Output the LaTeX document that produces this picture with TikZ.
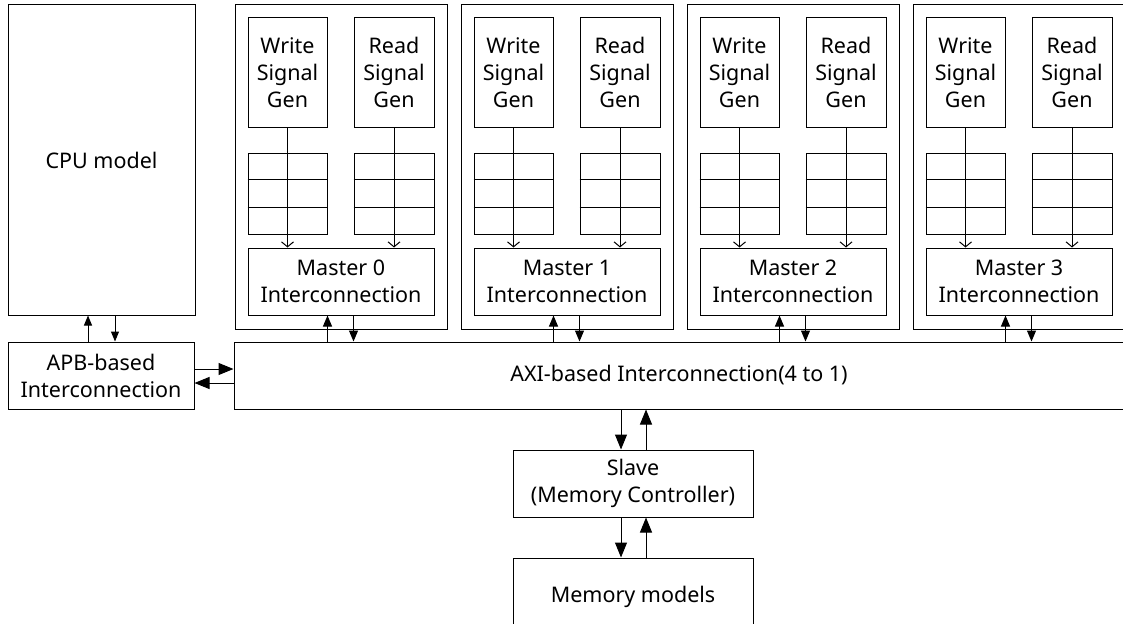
\documentclass[tikz,border=0pt]{standalone}
\usepackage{fontspec}
\setmainfont{Noto Sans}
\usetikzlibrary{arrows.meta}
\begin{document}
\begin{tikzpicture}[x=1pt,y=-1pt,
  blk/.style={draw,line width=1pt,inner sep=0pt,align=center,
    font=\fontsize{21.5}{27}\selectfont},
  fifo/.style={draw,line width=1pt,inner sep=0pt,minimum width=79pt,minimum height=81pt},
  sig/.style={line width=1pt,-{Straight Barb[length=5pt,width=12pt]}},
  bus/.style={line width=1pt,-{Triangle[length=11pt,width=9pt]}},
  bigbus/.style={line width=1pt,-{Triangle[length=15pt,width=12pt]}},
  smallbus/.style={line width=1pt,-{Triangle[length=10pt,width=8pt]}}]
\useasboundingbox (0,0) rectangle (1123,623);
\clip (0,0) rectangle (1123,623);
\fill[white] (0,0) rectangle (1123,623);
% left side
\node[blk,minimum width=187pt,minimum height=310pt] (cpu) at (101.5,160) {CPU model};
\node[blk,minimum width=186pt,minimum height=67pt] (apb) at (101,375.5) {APB-based\\Interconnection};
\node[blk,minimum width=890pt,minimum height=67pt] (axi) at (679,375.5) {AXI-based Interconnection(4 to 1)};
\node[blk,minimum width=240pt,minimum height=67pt] (slave) at (633,483.5) {Slave\\(Memory Controller)};
\node[blk,minimum width=240pt,minimum height=78pt] (mem) at (633,597) {Memory models};
% masters
\foreach \k in {0,1,2,3}{
  \pgfmathsetmacro{\dx}{226*\k}
  \node[blk,minimum width=212pt,minimum height=324pt] (m\k) at (341+\dx,167) {};
  \node[blk,minimum width=79pt,minimum height=109pt] (w\k) at (287.5+\dx,72.5) {Write\\Signal\\Gen};
  \node[blk,minimum width=80pt,minimum height=109pt] (r\k) at (394+\dx,72.5) {Read\\Signal\\Gen};
  \node[fifo] (fw\k) at (287.5+\dx,193.5) {};
  \node[fifo,minimum width=80pt] (fr\k) at (394+\dx,193.5) {};
  \draw[line width=1pt] ([yshift=-27pt]fw\k.north west) -- ([yshift=-27pt]fw\k.north east)
    ([yshift=27pt]fw\k.south west) -- ([yshift=27pt]fw\k.south east);
  \draw[line width=1pt] ([yshift=-27pt]fr\k.north west) -- ([yshift=-27pt]fr\k.north east)
    ([yshift=27pt]fr\k.south west) -- ([yshift=27pt]fr\k.south east);
  \node[blk,minimum width=186pt,minimum height=67pt] (ic\k) at (341+\dx,281.5) {Master \k\\Interconnection};
  \draw[sig] (w\k.south) -- (ic\k.north -| w\k.south);
  \draw[sig] (r\k.south) -- (ic\k.north -| r\k.south);
  \draw[bus] (axi.north -| w\k.east) -- (ic\k.south -| w\k.east);
  \draw[bus] (ic\k.south -| r\k.west) -- (axi.north -| r\k.west);
}
% CPU <-> APB
\draw[smallbus] ([xshift=-13pt]apb.north) -- ([xshift=-13pt]apb.north |- cpu.south);
\draw[smallbus] ([xshift=14pt]apb.north |- cpu.south) -- ([xshift=14pt]apb.north);
% APB <-> AXI
\draw[bigbus] ([yshift=6.5pt]apb.east) -- ([yshift=6.5pt]apb.east -| axi.west);
\draw[bigbus] ([yshift=-7.5pt]apb.east -| axi.west) -- ([yshift=-7.5pt]apb.east);
% AXI <-> Slave
\draw[bigbus] ([xshift=-12pt]slave.north |- axi.south) -- ([xshift=-12pt]slave.north);
\draw[bigbus] ([xshift=13pt]slave.north) -- ([xshift=13pt]slave.north |- axi.south);
% Slave <-> Memory
\draw[bigbus] ([xshift=-12pt]slave.south) -- ([xshift=-12pt]mem.north);
\draw[bigbus] ([xshift=13pt]mem.north) -- ([xshift=13pt]slave.south);
\end{tikzpicture}
\end{document}
